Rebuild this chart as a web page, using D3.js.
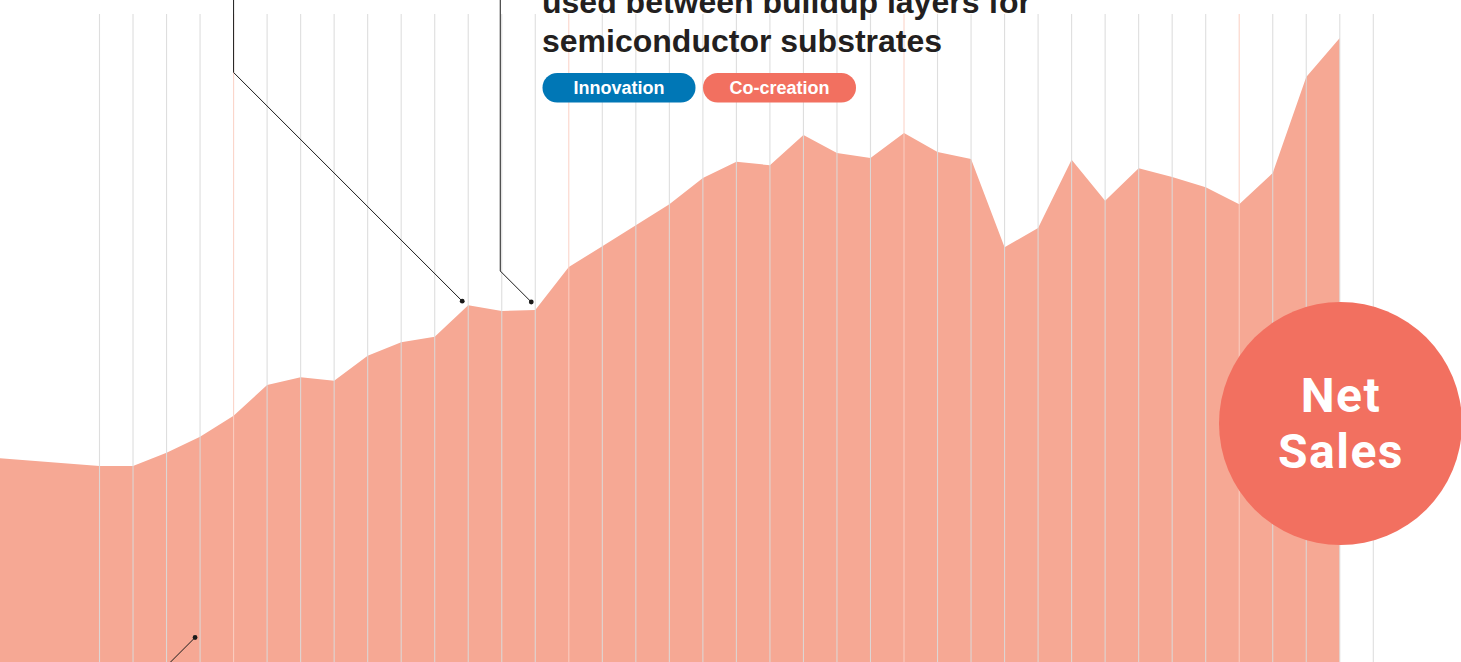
<!DOCTYPE html>
<html>
<head>
<meta charset="utf-8">
<script src="https://cdn.jsdelivr.net/npm/d3@7"></script>
<style>
  html, body { margin: 0; padding: 0; background: #ffffff; overflow: hidden; }
  svg { display: block; }
</style>
</head>
<body>
<svg id="chart" width="1461" height="662"></svg>
<script>
// ---- data ----
const years = [1983, 1986, 1987, 1988, 1989, 1990, 1991, 1992, 1993, 1994, 1995, 1996, 1997, 1998, 1999,
  2000, 2001, 2002, 2003, 2004, 2005, 2006, 2007, 2008, 2009, 2010, 2011, 2012, 2013, 2014,
  2015, 2016, 2017, 2018, 2019, 2020, 2021, 2022, 2023];
const netSales = [577, 561, 561, 588, 621, 664, 727, 743, 736, 787, 815, 826, 891, 879, 881,
  969, 1012, 1055, 1098, 1152, 1185, 1178, 1240, 1203, 1193, 1244, 1205, 1191, 1010, 1049,
  1189, 1105, 1172, 1154, 1133, 1098, 1162, 1359, 1439];
const gridYears = d3.range(1986, 2025);
const decadeYears = [1990, 2000, 2010, 2020];
const titleLines = ["used between buildup layers for", "semiconductor substrates"];
const tags = ["Innovation", "Co-creation"];
const badgeLines = ["Net", "Sales"];
const annotations = [
  { year: 1997, value: 891, elbowYear: 1990 },
  { year: 1999, value: 881, elbowYear: 1998 }
];

// ---- setup ----
const svg = d3.select("#chart");
const W = 1461, H = 662;

const x = d3.scaleLinear().domain([1986, 2024]).range([99.5, 1373.3]);
const y = d3.scaleLinear().domain([0, 1500]).range([739.5, 8.25]);

const colors = {
  area: "#f6a894",
  grid: "#dadada",
  decade: "#fbcfc3",
  coral: "#f27060",
  blue: "#0077b6",
  text: "#231f20"
};

const pts = years.map((yr, i) => ({ year: yr, value: netSales[i] }));

// area
const area = d3.area()
  .x(d => x(d.year))
  .y0(H + 20)
  .y1(d => y(d.value));

svg.append("path")
  .datum(pts)
  .attr("d", area)
  .attr("fill", colors.area);

// grid lines (on top of area)
svg.append("g")
  .selectAll("line")
  .data(gridYears)
  .join("line")
  .attr("x1", d => x(d))
  .attr("x2", d => x(d))
  .attr("y1", 14)
  .attr("y2", H)
  .attr("stroke", d => decadeYears.includes(d) ? colors.decade : colors.grid)
  .attr("stroke-opacity", 0.9)
  .attr("stroke-width", 1.1);

// annotation leader lines
const lead = svg.append("g").attr("fill", "none").attr("stroke", "#1a1a1a").attr("stroke-width", 1);
annotations.forEach(a => {
  const dx = x(a.year) - 6 + (a.year === 1999 ? 2 : 0);
  const dy = y(a.value) - 4 - (a.year === 1999 ? 4 : 0);
  const ex = x(a.elbowYear) + (a.elbowYear === 1998 ? -1.5 : 0);
  const ey = dy - (dx - ex);
  lead.append("path").attr("d", `M${ex},0 L${ex},${ey} L${dx},${dy}`);
  svg.append("circle").attr("cx", dx).attr("cy", dy).attr("r", 2.4).attr("fill", "#1a1a1a");
});
// bottom annotation (pointing into the area from below)
{
  const dx = x(1989) - 5, dy = 637.5;
  lead.append("path").attr("d", `M${dx},${dy} L${dx - 40},${dy + 40}`);
  svg.append("circle").attr("cx", dx).attr("cy", dy).attr("r", 2.4).attr("fill", "#1a1a1a");
}

// title text
const title = svg.append("g")
  .attr("font-family", "'Liberation Sans', Arial, Helvetica, sans-serif")
  .attr("font-weight", "bold")
  .attr("font-size", 32)
  .attr("fill", colors.text);
titleLines.forEach((t, i) => {
  title.append("text").attr("x", 542).attr("y", 13 + i * 39).text(t);
});

// tag pills
const tagBoxes = [
  { x0: 542.5, x1: 695.5, fill: colors.blue },
  { x0: 703, x1: 856, fill: colors.coral }
];
tags.forEach((t, i) => {
  const b = tagBoxes[i];
  svg.append("rect")
    .attr("x", b.x0).attr("y", 73)
    .attr("width", b.x1 - b.x0).attr("height", 29.5)
    .attr("rx", 14.75).attr("ry", 14.75)
    .attr("fill", b.fill);
  svg.append("text")
    .attr("x", (b.x0 + b.x1) / 2).attr("y", 94.3)
    .attr("text-anchor", "middle")
    .attr("font-family", "'Liberation Sans', Arial, Helvetica, sans-serif")
    .attr("font-weight", "bold")
    .attr("font-size", 18)
    .attr("fill", "#ffffff")
    .text(t);
});

// Net Sales badge
const cx = 1340.5, cy = 423.5;
svg.append("circle").attr("cx", cx).attr("cy", cy).attr("r", 121.5).attr("fill", colors.coral);
badgeLines.forEach((t, i) => {
  svg.append("text")
    .attr("x", cx + 0.5).attr("y", 412 + i * 56)
    .attr("text-anchor", "middle")
    .attr("font-family", "Roboto, 'Noto Sans', sans-serif")
    .attr("font-weight", "bold")
    .attr("font-size", 48)
    .attr("letter-spacing", 1.5)
    .attr("fill", "#ffffff")
    .text(t);
});
</script>
</body>
</html>
